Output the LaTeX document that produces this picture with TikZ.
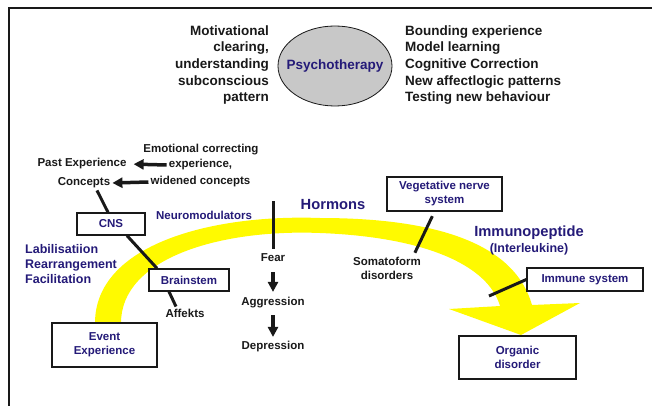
\documentclass[tikz,border=0pt]{standalone}
\usepackage{fontspec}
\setmainfont{Liberation Sans}
\usetikzlibrary{shapes.geometric,arrows.meta}
\definecolor{navy}{RGB}{36,26,120}
\definecolor{ink}{RGB}{25,25,25}
\definecolor{bandyellow}{RGB}{255,250,0}
\definecolor{ovalgray}{RGB}{200,200,200}
\begin{document}
\begin{tikzpicture}[x=1pt,y=-1pt,
    txt/.style={font=\bfseries\fontsize{11.5}{14}\selectfont, text=ink, inner sep=2pt},
    bluetxt/.style={txt, text=navy},
    box/.style={bluetxt, draw=ink, line width=1.3pt, fill=white, align=center},
    link/.style={draw=ink, line width=3pt},
    fatarrow/.style={draw=ink, line width=3.5pt, -{Triangle[length=10pt,width=10pt]}}]
    \useasboundingbox (0,0) rectangle (652,406);

    % frame, top and left side only
    \draw[ink, line width=2pt] (652,8) -- (8.5,8) -- (8.5,406);

    % the yellow band from the event to the organic disorder
    \fill[bandyellow] (95,323) .. controls (95,245) and (210,214) .. (320,218)
        .. controls (440,218) and (515,245) .. (532,305) -- (580,303) -- (521,335) -- (449,309)
        -- (500,306) .. controls (488,265) and (425,237) .. (320,233)
        .. controls (220,229) and (121,258) .. (121,323) -- cycle;

    % psychotherapy and what it does
    \node[ellipse, draw=ink, line width=0.8pt, fill=ovalgray, minimum width=114, minimum height=80,
        inner sep=0pt] (psy) at (335,66) {};
    \node[bluetxt, font=\bfseries\fontsize{13.5}{16}\selectfont] (psytext) at (psy.center) {Psychotherapy};
    \node[txt, font=\bfseries\fontsize{13.5}{16.7}\selectfont, align=right, anchor=east] (motiv) at (271,65)
        {Motivational\\clearing,\\understanding\\subconscious\\pattern};
    \node[txt, font=\bfseries\fontsize{13.5}{16.7}\selectfont, align=left, anchor=west] (effects) at (403,65)
        {Bounding experience\\Model learning\\Cognitive Correction\\New affectlogic patterns\\Testing new behaviour};

    % correcting experience
    \node[txt] (emo1) at (201,150) {Emotional correcting};
    \node[txt] (emo2) at (200.5,165) {experience,};
    \node[txt] (emo3) at (200.5,182) {widened concepts};
    \node[txt] (past) at (82,164) {Past Experience};
    \node[txt] (concepts) at (84,183) {Concepts};
    \draw[fatarrow, shorten >=5pt] (emo2.west) -- (past.east);
    \draw[fatarrow] (emo3.west) -- (concepts.east);

    % central nervous system
    \node[box, minimum width=68, minimum height=22] (cns) at (111,224) {CNS};
    \node[box, minimum width=80, minimum height=22] (brain) at (189,280) {Brainstem};
    \node[box, minimum width=105, minimum height=44] (event) at (104.5,345) {Event\\Experience};
    \node[txt] (affekts) at (185,313) {Affekts};
    \node[bluetxt] (neuro) at (204,215) {Neuromodulators};
    \node[bluetxt, font=\bfseries\fontsize{12.5}{15.3}\selectfont, align=left, anchor=west] (labil) at (23,264)
        {Labilisatiion\\Rearrangement\\Facilitation};
    \draw[link] ([xshift=13]concepts.south) -- ([xshift=-3]cns.north);
    \draw[link] ([xshift=16]cns.south) -- ([xshift=-32]brain.north);
    \draw[link] ([xshift=-20]brain.south) -- ([xshift=-9]affekts.north);

    % hormons
    \node[bluetxt, font=\bfseries\fontsize{14.7}{17}\selectfont] (hormons) at (333,205) {Hormons};
    \coordinate (hormtop) at (273,201);
    \node[txt] (fear) at (273,258) {Fear};
    \node[txt] (aggr) at (273,303) {Aggression};
    \node[txt] (depr) at (273,347) {Depression};
    \draw[link, shorten >=3pt] (hormtop) -- (fear.north);
    \draw[fatarrow, shorten <=8pt, shorten >=3.5pt] (fear.south) -- (aggr.north);
    \draw[fatarrow, shorten <=4.5pt, shorten >=2.5pt] (aggr.south) -- (depr.north);

    % vegetative nerve system
    \node[box, minimum width=115, minimum height=34] (veg) at (444.5,194) {Vegetative nerve\\system};
    \node[txt, align=center] (soma) at (387,268) {Somatoform\\disorders};
    \draw[link, shorten <=5pt, shorten >=2pt] ([xshift=-10]veg.south) -- ([xshift=27]soma.north);

    % immune system
    \node[bluetxt, font=\bfseries\fontsize{14.7}{17}\selectfont] (immuno) at (529,233) {Immunopeptide};
    \node[bluetxt, font=\bfseries\fontsize{12.5}{15}\selectfont] (interl) at (529,249) {(Interleukine)};
    \node[box, minimum width=116, minimum height=23] (immune) at (585,279.5) {Immune system};
    \coordinate (immend) at (489,296);
    \draw[link] (immune.west) -- (immend);
    \node[box, minimum width=117, minimum height=43] (organic) at (517.5,357.5) {Organic\\disorder};
\end{tikzpicture}
\end{document}
